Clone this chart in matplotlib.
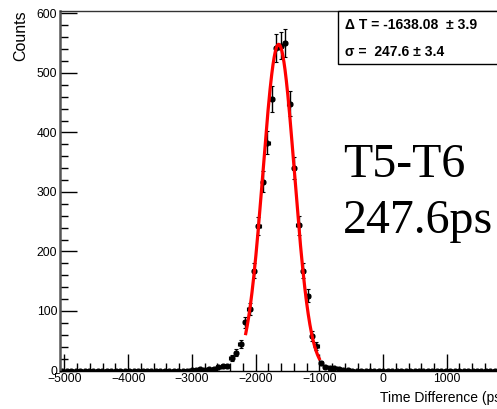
import numpy as np
import matplotlib.pyplot as plt
from matplotlib.patches import Rectangle

# T5-T6 time difference histogram: 100 bins of 70 ps starting at -5070 ps
bin_lo = -5070
bin_width = 70
counts = [
    0, 0, 0, 0, 0, 0, 0, 0, 0, 0,
    0, 0, 0, 0, 0, 0, 0, 0, 0, 0,
    0, 0, 0, 0, 0, 0, 0, 0, 0, 1,
    1, 2, 1, 2, 3, 6, 7, 7, 21, 30,
    45, 81, 104, 168, 243, 317, 383, 456, 542, 546,
    551, 448, 341, 244, 168, 126, 58, 41, 12, 6,
    4, 4, 2, 1, 1, 0, 0, 0, 0, 0,
    0, 0, 0, 0, 0, 0, 0, 0, 0, 0,
    0, 0, 0, 0, 0, 0, 0, 0, 0, 0,
    0, 0, 0, 0, 0, 0, 0, 0, 0, 0,
]

# gaussian fit result
fit_mean = -1638.08
fit_mean_err = 3.9
fit_sigma = 247.6
fit_sigma_err = 3.4
fit_amp = 548
fit_range = (-2155, -1000)

x_ticks = [-5000, -4000, -3000, -2000, -1000, 0, 1000]
y_ticks = [0, 100, 200, 300, 400, 500, 600]


def main():
    counts_arr = np.array(counts, dtype=float)
    centers = bin_lo + bin_width * (np.arange(len(counts_arr)) + 0.5)

    fig = plt.figure(figsize=(4.97, 4.09), dpi=100)
    # axes run past the right edge of the canvas
    ax = fig.add_axes([60 / 497, 1 - 370.5 / 409, 446 / 497, 359.5 / 409])

    ax.errorbar(centers, counts_arr, xerr=bin_width / 2, yerr=np.sqrt(counts_arr),
                fmt='o', color='black', ms=3.4, elinewidth=1.0, capsize=1.2,
                capthick=0.8, zorder=2)

    xf = np.linspace(fit_range[0], fit_range[1], 400)
    yf = fit_amp * np.exp(-0.5 * ((xf - fit_mean) / fit_sigma) ** 2)
    ax.plot(xf, yf, color='red', lw=2.3, zorder=3)

    ax.set_xlim(bin_lo, bin_lo + bin_width * len(counts_arr))
    ax.set_ylim(0, 604)

    ax.set_xticks(x_ticks)
    ax.set_xticks(np.arange(-5000, 2000, 200), minor=True)
    ax.set_yticks(y_ticks)
    ax.set_yticks(np.arange(0, 620, 20), minor=True)
    ax.set_xticklabels([str(v).replace('-', '\u2212') for v in x_ticks])
    ax.tick_params(which='both', direction='in', top=False, right=False,
                   labelsize=8.7, color='black')
    ax.tick_params(which='major', length=12, width=1.0)
    ax.tick_params(which='minor', length=6, width=1.0)
    ax.tick_params(axis='x', pad=1.5)
    ax.tick_params(axis='y', pad=2)
    for lab in ax.get_xticklabels() + ax.get_yticklabels():
        lab.set_family('Liberation Sans')

    ax.spines['left'].set_color('#555555')
    ax.spines['left'].set_linewidth(1.8)
    ax.spines['bottom'].set_linewidth(1.0)
    ax.spines['top'].set_color('#333333')
    ax.spines['top'].set_linewidth(1.0)

    fig.text(21 / 497, 1 - 10 / 409, 'Counts', rotation=90, ha='center',
             va='top', fontsize=11.5, family='Liberation Sans')
    ax.text(1.0, -27.5 / 359.5, 'Time Difference (ps)', transform=ax.transAxes,
            ha='right', va='center', fontsize=10, family='Liberation Sans')

    # stats box
    fig.patches.append(Rectangle((338 / 497, 1 - 64 / 409), 0.5, 53 / 409,
                                 transform=fig.transFigure, facecolor='white',
                                 edgecolor='black', lw=1.0, zorder=5))
    fig.text(345 / 497, 1 - 25 / 409,
             '\u0394 T = %.2f  \u00b1 %.1f' % (fit_mean, fit_mean_err),
             ha='left', va='center', fontsize=10, fontweight='bold',
             family='Liberation Sans', zorder=6)
    fig.text(345 / 497, 1 - 52 / 409,
             '\u03c3 =  %.1f \u00b1 %.1f' % (fit_sigma, fit_sigma_err),
             ha='left', va='center', fontsize=10, fontweight='bold',
             family='Liberation Sans', zorder=6)

    fig.text(343 / 497, 1 - 176.7 / 409, 'T5-T6', ha='left', va='baseline',
             fontsize=34.5, family='Liberation Serif')
    fig.text(343 / 497, 1 - 233.3 / 409, '%.1fps' % fit_sigma, ha='left',
             va='baseline', fontsize=34.5, family='Liberation Serif')

    fig.savefig('out.png', dpi=100)


if __name__ == "__main__":
    main()
